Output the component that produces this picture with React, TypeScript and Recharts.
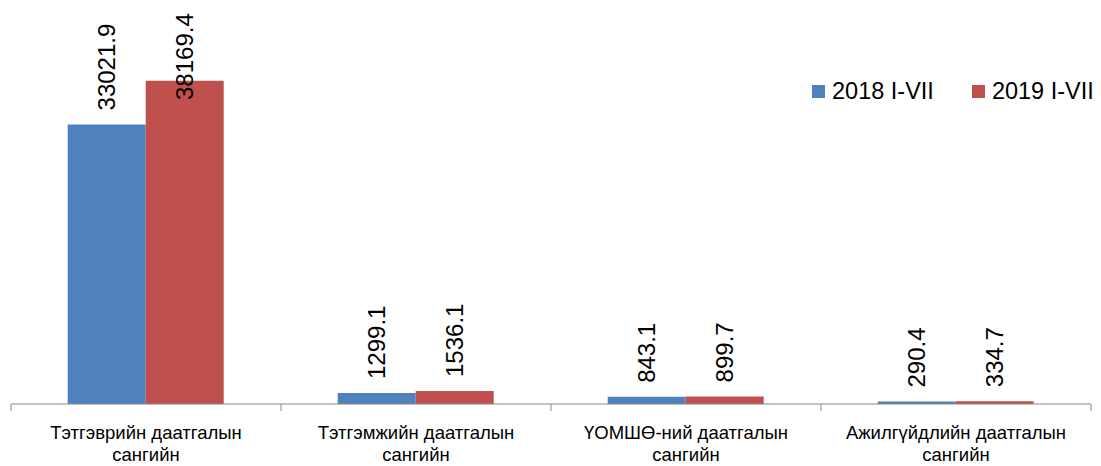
import { BarChart, Bar, XAxis, YAxis, LabelList } from "recharts";

const categories = [
  ["Тэтгэврийн даатгалын", "сангийн"],
  ["Тэтгэмжийн даатгалын", "сангийн"],
  ["ҮОМШӨ-ний даатгалын", "сангийн"],
  ["Ажилгүйдлийн даатгалын", "сангийн"],
];
const values2018 = [33021.9, 1299.1, 843.1, 290.4];
const values2019 = [38169.4, 1536.1, 899.7, 334.7];
const seriesNames = ["2018 I-VII", "2019 I-VII"];
const colors = ["#4F81BD", "#C0504D"];

const data = categories.map((lines, i) => ({
  name: lines.join(" "),
  lines,
  a: values2018[i],
  b: values2019[i],
}));

const FONT = "'Liberation Sans', Arial, sans-serif";
const BAND = (1101 - 11 - 10) / categories.length;

function ValueLabel(props: any) {
  const { x, y, width, value } = props;
  const cx = x + width / 2;
  // keep the label inside the chart, like the original
  const ys = Math.max(y - 14, 100);
  return (
    <text
      x={cx + 8}
      y={ys}
      transform={`rotate(-90 ${cx + 8} ${ys})`}
      textAnchor="start"
      fontSize={24}
      fontFamily={FONT}
      fill="#000"
    >
      {value.toFixed(1)}
    </text>
  );
}

function CategoryTick(props: any) {
  const { x, y, payload, index } = props;
  const lines: string[] = data[index]?.lines ?? [payload.value];
  const isLast = index === data.length - 1;
  return (
    <g>
      <line x1={x - BAND / 2} y1={y - 8} x2={x - BAND / 2} y2={y - 1} stroke="#868686" />
      {isLast && (
        <line x1={x + BAND / 2} y1={y - 8} x2={x + BAND / 2} y2={y - 1} stroke="#868686" />
      )}
      {lines.map((t, i) => (
        <text
          key={i}
          x={x}
          y={y + 27 + i * 22}
          textAnchor="middle"
          fontSize={18.5}
          fontFamily={FONT}
          fill="#000"
        >
          {t}
        </text>
      ))}
    </g>
  );
}

function LegendBox() {
  return (
    <div
      style={{
        position: "absolute",
        top: 78,
        left: 812,
        display: "flex",
        fontFamily: FONT,
        fontSize: 23.5,
        color: "#000",
      }}
    >
      {seriesNames.map((n, i) => (
        <div key={n} style={{ display: "flex", alignItems: "center", marginRight: i === 0 ? 38 : 0 }}>
          <span
            style={{
              display: "inline-block",
              width: 13,
              height: 13,
              background: colors[i],
              marginRight: 7,
            }}
          />
          {n}
        </div>
      ))}
    </div>
  );
}

export default function App() {
  return (
    <div style={{ position: "absolute", left: 0, top: 0, width: 1101, height: 466, background: "#fff" }}>
      <BarChart
        width={1101}
        height={466}
        data={data}
        margin={{ top: 23, right: 10, left: 11, bottom: 0 }}
        barCategoryGap="21%"
        barGap={0}
      >
        <XAxis
          dataKey="name"
          height={62}
          stroke="#868686"
          tickLine={false}
          interval={0}
          tick={<CategoryTick />}
        />
        <YAxis hide domain={[0, 45000]} />
        <Bar dataKey="a" name={seriesNames[0]} fill={colors[0]} isAnimationActive={false}>
          <LabelList dataKey="a" content={<ValueLabel />} />
        </Bar>
        <Bar dataKey="b" name={seriesNames[1]} fill={colors[1]} isAnimationActive={false}>
          <LabelList dataKey="b" content={<ValueLabel />} />
        </Bar>
      </BarChart>
      <LegendBox />
    </div>
  );
}
